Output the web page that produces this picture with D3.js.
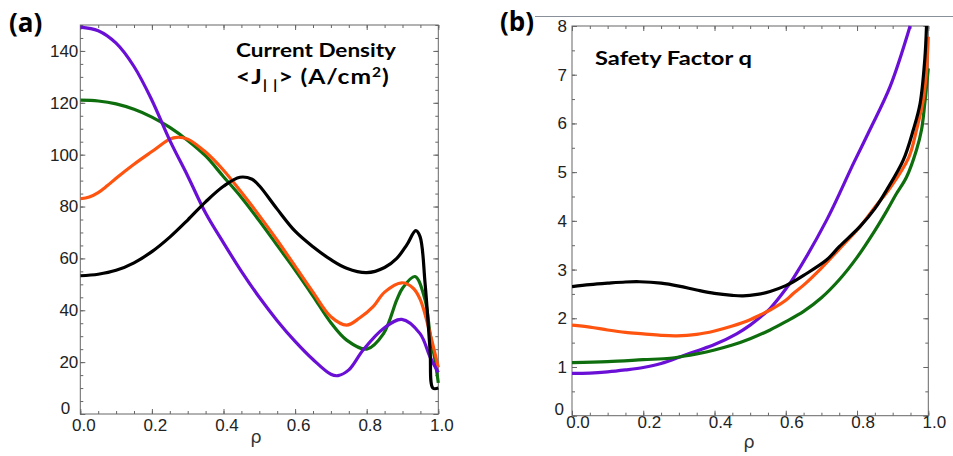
<!DOCTYPE html>
<html><head><meta charset="utf-8">
<script src="https://cdn.jsdelivr.net/npm/d3@7"></script>
<style>body{margin:0;background:#fff;} svg{display:block;}</style>
</head><body>
<svg id="c" width="953" height="456"></svg>
<script>
// ---- data ----
const xTickLabels = [0, 0.2, 0.4, 0.6, 0.8, 1.0];
const yTicksA = [0, 20, 40, 60, 80, 100, 120, 140];
const yTicksB = [0, 1, 2, 3, 4, 5, 6, 7, 8];

// (a) Current density <J||> (A/cm2) vs rho
const jPurple = [[0,149.2],[0.05,147.8],[0.1,143],[0.15,134],[0.2,121],[0.25,105.5],[0.3,91.8],[0.35,77.5],[0.4,66],[0.45,55],[0.5,45],[0.55,36],[0.6,28],[0.65,21],[0.7,15.3],[0.72,14.8],[0.75,17],[0.79,24.7],[0.847,33],[0.898,36.5],[0.949,31],[0.977,22],[1.0,16]];
const jGreen = [[0,121],[0.05,120.7],[0.1,119.6],[0.15,117.5],[0.2,114.5],[0.25,110.5],[0.3,105.5],[0.35,99.5],[0.4,91.5],[0.45,83.5],[0.5,74.5],[0.55,65],[0.6,55.5],[0.65,45.5],[0.7,35.2],[0.744,28.5],[0.8,25],[0.847,31],[0.884,44],[0.9,48.5],[0.935,53],[0.963,44],[0.977,31],[0.991,20.5],[1.0,12]];
const jOrange = [[0,83],[0.025,83.7],[0.05,85.4],[0.075,88],[0.1,90.9],[0.15,96.3],[0.2,101.2],[0.25,106],[0.27,106.7],[0.3,106],[0.35,101],[0.4,94],[0.45,85.5],[0.5,76.5],[0.55,67],[0.6,57],[0.65,47],[0.7,37.5],[0.744,34.3],[0.78,37],[0.818,41.4],[0.85,47],[0.898,50.6],[0.93,48.5],[0.95,44],[0.977,31],[1.0,18]];
const jBlack = [[0,53.3],[0.05,53.9],[0.1,55.4],[0.15,58.3],[0.2,62.6],[0.25,68.2],[0.3,74.8],[0.35,81.8],[0.4,87.8],[0.446,91.3],[0.48,90.5],[0.5,88],[0.55,79],[0.6,70.5],[0.65,64.5],[0.7,59.5],[0.744,56.2],[0.8,54.5],[0.85,56.5],[0.884,60],[0.912,65.2],[0.937,70.7],[0.949,68.4],[0.963,50.5],[0.977,24.7],[0.985,10],[1.0,10]];

// (b) Safety factor q vs rho
const qPurple = [[0,0.87],[0.05,0.875],[0.1,0.9],[0.15,0.94],[0.2,0.99],[0.25,1.07],[0.312,1.23],[0.35,1.33],[0.4,1.46],[0.462,1.68],[0.5,1.86],[0.528,2.02],[0.556,2.2],[0.6,2.6],[0.621,2.82],[0.715,4.02],[0.79,5.18],[0.836,5.87],[0.893,6.76],[0.949,8.0]];
const qGreen = [[0,1.09],[0.1,1.11],[0.2,1.15],[0.275,1.18],[0.312,1.22],[0.35,1.27],[0.4,1.35],[0.45,1.45],[0.5,1.58],[0.556,1.76],[0.6,1.93],[0.65,2.14],[0.7,2.42],[0.75,2.79],[0.8,3.25],[0.85,3.8],[0.883,4.2],[0.91,4.55],[0.939,4.9],[0.967,5.46],[0.981,5.87],[0.99,6.4],[1.0,7.13]];
const qOrange = [[0,1.86],[0.05,1.82],[0.1,1.76],[0.15,1.71],[0.2,1.68],[0.25,1.65],[0.294,1.64],[0.35,1.67],[0.4,1.74],[0.45,1.84],[0.5,1.97],[0.528,2.07],[0.556,2.17],[0.6,2.37],[0.621,2.51],[0.65,2.68],[0.7,3.03],[0.75,3.42],[0.808,3.88],[0.85,4.28],[0.892,4.67],[0.945,5.3],[0.967,5.87],[0.985,6.45],[0.994,7.0],[1.0,7.78]];
const qBlack = [[0,2.65],[0.05,2.69],[0.1,2.72],[0.15,2.745],[0.19,2.75],[0.25,2.72],[0.3,2.66],[0.35,2.58],[0.4,2.51],[0.45,2.47],[0.48,2.46],[0.52,2.49],[0.556,2.55],[0.6,2.67],[0.621,2.75],[0.65,2.88],[0.715,3.2],[0.75,3.47],[0.808,3.88],[0.85,4.25],[0.883,4.63],[0.93,5.25],[0.958,5.87],[0.977,6.41],[0.99,7.3],[0.995,8.0]];

const colors = {purple:"#6a0fd6", green:"#0e6e0e", orange:"#ff5410", black:"#000000"};

const svg = d3.select("#c");

function panel(cfg) {
  const x = d3.scaleLinear().domain([0, 1]).range([cfg.x0, cfg.x1]);
  const y = d3.scaleLinear().domain([0, cfg.ymax]).range([cfg.y1, cfg.y0]);
  const g = svg.append("g");
  const tickCol = "#666";
  const minorX = d3.range(0, 1.0001, 0.05).map(v => +v.toFixed(2));
  const minorY = d3.range(0, cfg.ymax + 1e-9, cfg.yMinor);

  const axes = [
    [d3.axisBottom(x).tickValues(minorX).tickSize(-3).tickFormat(""), `translate(0,${cfg.y1})`],
    [d3.axisTop(x).tickValues(minorX).tickSize(-3).tickFormat(""), `translate(0,${cfg.y0})`],
    [d3.axisLeft(y).tickValues(minorY).tickSize(-3).tickFormat(""), `translate(${cfg.x0},0)`],
    [d3.axisRight(y).tickValues(minorY).tickSize(-3).tickFormat(""), `translate(${cfg.x1},0)`],
    [d3.axisTop(x).tickValues(xTickLabels).tickSize(-5).tickFormat(""), `translate(0,${cfg.y0})`],
    [d3.axisRight(y).tickValues(cfg.yTicks).tickSize(-5).tickFormat(""), `translate(${cfg.x1},0)`]
  ];
  axes.forEach(([ax, tr]) => {
    const a = g.append("g").attr("transform", tr).call(ax);
    a.select(".domain").remove();
    a.selectAll("line").attr("stroke", tickCol);
  });
  const bx = g.append("g").attr("transform", `translate(0,${cfg.y1})`)
    .call(d3.axisBottom(x).tickValues(xTickLabels).tickSize(-5).tickPadding(cfg.xPad).tickFormat(d3.format(".1f")));
  bx.select(".domain").remove();
  bx.selectAll("line").attr("stroke", tickCol);
  bx.selectAll("text").attr("font-family", "Liberation Sans, Arial, sans-serif").attr("font-size", 17).attr("fill", "#222").attr("dx", cfg.xdx);
  const ly = g.append("g").attr("transform", `translate(${cfg.x0},0)`)
    .call(d3.axisLeft(y).tickValues(cfg.yTicks).tickSize(-5).tickPadding(cfg.yPad));
  ly.select(".domain").remove();
  ly.selectAll("line").attr("stroke", tickCol);
  ly.selectAll("text").attr("font-family", "Liberation Sans, Arial, sans-serif").attr("font-size", 17).attr("fill", "#222")
    .attr("dy", d => d === 0 ? "-0.05em" : "0.32em")
    .attr("dx", d => d === 0 ? cfg.zeroDx : 0);

  g.append("rect").attr("x", cfg.x0).attr("y", cfg.y0).attr("width", cfg.x1 - cfg.x0).attr("height", cfg.y1 - cfg.y0)
    .attr("fill", "none").attr("stroke", "#666").attr("stroke-width", 1);

  const cid = "clip" + cfg.id;
  svg.append("clipPath").attr("id", cid).append("rect")
    .attr("x", cfg.x0).attr("y", cfg.y0 - 1).attr("width", cfg.x1 - cfg.x0 + 2).attr("height", cfg.y1 - cfg.y0 + 1);
  const line = d3.line().x(d => x(d[0])).y(d => y(d[1])).curve(d3.curveCatmullRom.alpha(0.5));
  const lg = g.append("g").attr("clip-path", `url(#${cid})`);
  cfg.series.forEach(s => {
    lg.append("path").attr("d", line(s.data)).attr("fill", "none").attr("stroke", s.color)
      .attr("stroke-width", 3.2).attr("stroke-linejoin", "round").attr("stroke-linecap", "butt");
  });

  g.append("text").attr("x", cfg.rhoX).attr("y", cfg.rhoY).attr("text-anchor", "middle")
    .attr("font-family", "DejaVu Sans, sans-serif").attr("font-size", 18).attr("fill", "#333").text("ρ");
}

panel({id: "a", x0: 80.3, x1: 438.3, y0: 25, y1: 414, ymax: 150, yMinor: 5, yTicks: yTicksA,
  xPad: 4.5, xdx: 3, yPad: 2, zeroDx: -8, rhoX: 256, rhoY: 443,
  series: [
    {data: jGreen, color: colors.green},
    {data: jOrange, color: colors.orange},
    {data: jPurple, color: colors.purple},
    {data: jBlack, color: colors.black}
  ]});

panel({id: "b", x0: 572, x1: 928.3, y0: 26, y1: 415.7, ymax: 8, yMinor: 0.5, yTicks: yTicksB,
  xPad: 0, xdx: 5.5, yPad: 5, zeroDx: -3, rhoX: 749, rhoY: 448,
  series: [
    {data: qPurple, color: colors.purple},
    {data: qGreen, color: colors.green},
    {data: qOrange, color: colors.orange},
    {data: qBlack, color: colors.black}
  ]});

svg.append("text").attr("x", 9).attr("y", 32).attr("font-family", "Open Sans, Liberation Sans, sans-serif")
  .attr("font-weight", "bold").attr("font-size", 26).attr("fill", "#000").text("(a)");
svg.append("text").attr("x", 500).attr("y", 31).attr("font-family", "Open Sans, Liberation Sans, sans-serif")
  .attr("font-weight", "bold").attr("font-size", 26).attr("fill", "#000").text("(b)");

svg.append("line").attr("x1", 535).attr("x2", 953).attr("y1", 16.5).attr("y2", 16.5)
  .attr("stroke", "#8a909a").attr("stroke-width", 1);

const tf = "Lato, Open Sans, sans-serif";
svg.append("text").attr("x", 236).attr("y", 57).attr("font-family", tf).attr("font-weight", "bold")
  .attr("font-size", 19.5).attr("textLength", 160).attr("lengthAdjust", "spacingAndGlyphs").text("Current Density");
const t2 = svg.append("text").attr("transform", "translate(236,84) scale(1.2,1)").attr("font-family", tf).attr("font-weight", "bold")
  .attr("font-size", 20.5).attr("letter-spacing", 0.8).attr("fill", "#000");
t2.append("tspan").text("<J");
t2.append("tspan").attr("dy", 6).attr("font-size", 14).attr("fill", "#000").text("| |");
t2.append("tspan").attr("dy", -6).text("> (A/cm");
t2.append("tspan").attr("dy", -7).attr("font-size", 13).text("2");
t2.append("tspan").attr("dy", 7).text(")");

svg.append("text").attr("x", 595).attr("y", 65).attr("font-family", tf).attr("font-weight", "bold")
  .attr("font-size", 19.5).attr("textLength", 157).attr("lengthAdjust", "spacingAndGlyphs").text("Safety Factor q");
</script>
</body></html>
